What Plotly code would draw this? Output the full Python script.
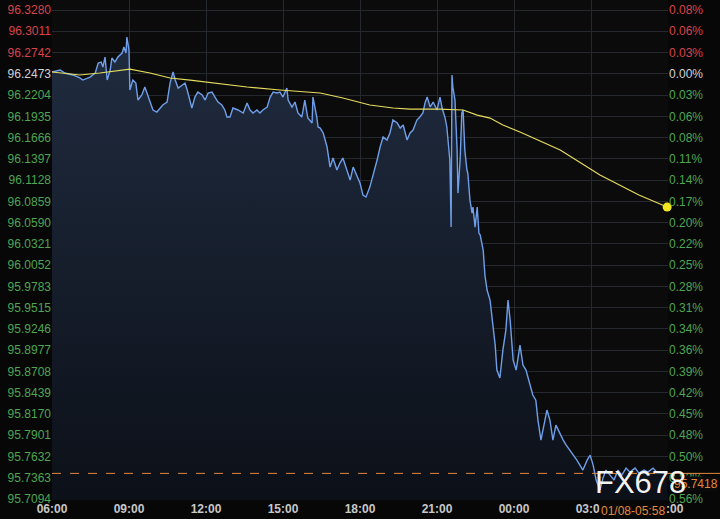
import pandas as pd
import plotly.graph_objects as go

# ---- data ----
minutes_from_0600 = [
    0, 19, 30, 49, 65, 72, 89, 101, 108, 115, 119, 124, 129, 136, 140, 147, 154, 164, 168, 173,
    175, 180, 182, 189, 196, 201, 210, 217, 222, 229, 236, 245, 252, 259, 269, 276, 283, 288, 295, 304,
    311, 316, 327, 334, 341, 351, 358, 365, 374, 381, 388, 397, 404, 409, 416, 423, 435, 447, 456, 463,
    470, 479, 486, 493, 503, 510, 517, 526, 533, 540, 549, 552, 561, 568, 575, 584, 591, 598, 603, 608,
    610, 615, 619, 622, 627, 634, 643, 650, 657, 666, 673, 680, 690, 697, 704, 713, 720, 727, 734, 743,
    750, 760, 767, 774, 783, 790, 797, 807, 814, 821, 830, 837, 844, 853, 860, 867, 872, 877, 884, 891,
    900, 907, 912, 919, 923, 930, 933, 935, 937, 942, 947, 949, 954, 958, 961, 965, 970, 972, 977, 982,
    984, 989, 994, 998, 1001, 1008, 1012, 1017, 1024, 1029, 1036, 1040, 1047, 1054, 1061, 1066, 1071, 1078, 1085, 1094,
    1101, 1108, 1117, 1124, 1131, 1136, 1143, 1150, 1157, 1164, 1171, 1178, 1188, 1195, 1202, 1211, 1218, 1227, 1234, 1241,
    1251, 1258, 1265, 1272, 1281, 1288, 1295, 1304, 1314, 1323, 1332, 1342, 1351, 1363, 1372, 1384, 1393, 1405, 1414, 1438,
]
price = [
    96.2496, 96.2521, 96.2483, 96.2458, 96.2420, 96.2394, 96.2432, 96.2483, 96.2609, 96.2622,
    96.2559, 96.2685, 96.2394, 96.2521, 96.2673, 96.2622, 96.2685, 96.2736, 96.2812, 96.2736,
    96.2938, 96.2774, 96.2268, 96.2394, 96.2356, 96.2141, 96.2205, 96.2306, 96.2230, 96.2116,
    96.2015, 96.1989, 96.2040, 96.2078, 96.2116, 96.2356, 96.2496, 96.2394, 96.2293, 96.2331,
    96.2356, 96.2268, 96.2040, 96.2179, 96.2242, 96.2205, 96.2141, 96.2230, 96.2242, 96.2179,
    96.2116, 96.2078, 96.2015, 96.1926, 96.1926, 96.2040, 96.2015, 96.1977, 96.2103, 96.2015,
    96.1977, 96.2015, 96.1977, 96.2015, 96.2053, 96.2179, 96.2242, 96.2230, 96.2242, 96.2179,
    96.2293, 96.2141, 96.2053, 96.2116, 96.1977, 96.1926, 96.2141, 96.1913, 96.1888, 96.1850,
    96.2179, 96.2053, 96.1926, 96.1800, 96.1787, 96.1724, 96.1547, 96.1293, 96.1407, 96.1256,
    96.1344, 96.1407, 96.1256, 96.1129, 96.1293, 96.1167, 96.1091, 96.0939, 96.0914, 96.1040,
    96.1167, 96.1382, 96.1547, 96.1673, 96.1635, 96.1724, 96.1888, 96.1850, 96.1787, 96.1825,
    96.1635, 96.1724, 96.1762, 96.1888, 96.1926, 96.1977, 96.2103, 96.2179, 96.2053, 96.2116,
    96.2015, 96.2179, 96.2040, 96.1913, 96.1800, 96.1382, 96.0534, 96.2458, 96.2306, 96.2141,
    96.1509, 96.0964, 96.1382, 96.1977, 96.2015, 96.1509, 96.1256, 96.1218, 96.0876, 96.0711,
    96.0787, 96.0534, 96.0787, 96.0458, 96.0433, 96.0243, 95.9927, 95.9737, 95.9611, 95.9358,
    95.9041, 95.8725, 95.8624, 95.8978, 95.9231, 95.9611, 95.9358, 95.8851, 95.8725, 95.9041,
    95.8788, 95.8725, 95.8535, 95.8409, 95.8345, 95.8092, 95.7839, 95.8029, 95.8219, 95.8092,
    95.7839, 95.8029, 95.7903, 95.7839, 95.7776, 95.7713, 95.7649, 95.7586, 95.7523, 95.7460,
    95.7586, 95.7649, 95.7523, 95.7333, 95.7207, 95.7358, 95.7460, 95.7396, 95.7333, 95.7460,
    95.7396, 95.7485, 95.7434, 95.7485, 95.7422, 95.7460, 95.7434, 95.7485, 95.7434, 95.7418,
]
avg_minutes = [0, 26, 65, 112, 182, 229, 276, 323, 376, 456, 533, 603, 627, 680, 743, 797, 837, 905,
               961, 994, 1024, 1054, 1094, 1188, 1281, 1372, 1438]
avg_price = [96.2496, 96.2483, 96.2458, 96.2483, 96.2533, 96.2483, 96.2420, 96.2394, 96.2356, 96.2306,
             96.2268, 96.2242, 96.2230, 96.2167, 96.2078, 96.2040, 96.2027, 96.2027, 96.2015, 96.1951,
             96.1913, 96.1825, 96.1736, 96.1509, 96.1192, 96.0939, 96.0787]

left_labels = ["96.3280", "96.3011", "96.2742", "96.2473", "96.2204", "96.1935", "96.1666", "96.1397",
               "96.1128", "96.0859", "96.0590", "96.0321", "96.0052", "95.9783", "95.9515", "95.9246",
               "95.8977", "95.8708", "95.8439", "95.8170", "95.7901", "95.7632", "95.7363", "95.7094"]
right_labels = ["0.08%", "0.06%", "0.03%", "0.00%", "0.03%", "0.06%", "0.08%", "0.11%", "0.14%", "0.17%",
                "0.20%", "0.22%", "0.25%", "0.28%", "0.31%", "0.34%", "0.36%", "0.39%", "0.42%", "0.45%",
                "0.48%", "0.50%", "0.53%", "0.56%"]
ref_price = 96.2473
base_time = pd.Timestamp("2019-01-07 06:00")
end_time = pd.Timestamp("2019-01-08 06:00")

# ---- build ----
t = [base_time + pd.Timedelta(minutes=m) for m in minutes_from_0600]
ta = [base_time + pd.Timedelta(minutes=m) for m in avg_minutes]
tick_vals = [float(s) for s in left_labels]

RED, WHITE, GREEN = "#d8444b", "#d2d2d2", "#4fa552"


def colour_for(v):
    if abs(v - ref_price) < 1e-6:
        return WHITE
    return RED if v > ref_price else GREEN


left_text = [f"<span style='color:{colour_for(v)}'>{s}</span>" for v, s in zip(tick_vals, left_labels)]
right_text = [f"<span style='color:{colour_for(v)}'>{s}</span>" for v, s in zip(tick_vals, right_labels)]

step = tick_vals[0] - tick_vals[1]
px_per_unit = 21.26 / step
y_top = tick_vals[0] + 10 / px_per_unit
y_bot = tick_vals[-1] - 1 / px_per_unit
yrange = [y_bot, y_top]

fig = go.Figure()
fig.add_trace(go.Scatter(
    x=t, y=price, mode="lines",
    line=dict(color="#6f9fe9", width=1.4),
    fill="tozeroy",
    fillgradient=dict(type="vertical", start=y_bot, stop=96.30,
                      colorscale=[[0, "rgb(12,16,24)"], [1, "rgb(32,44,64)"]]),
    hoverinfo="skip", showlegend=False,
))
fig.add_trace(go.Scatter(
    x=ta, y=avg_price, mode="lines", yaxis="y2",
    line=dict(color="#e6dc5e", width=1.2),
    hoverinfo="skip", showlegend=False,
))
fig.add_trace(go.Scatter(
    x=[ta[-1]], y=[avg_price[-1]], mode="markers", yaxis="y2", cliponaxis=False,
    marker=dict(color="#f2e41e", size=9),
    hoverinfo="skip", showlegend=False,
))

last = price[-1]
orange = "#e3883e"
fig.add_shape(type="line", xref="paper", x0=0, x1=1, yref="y", y0=last, y1=last,
              line=dict(color=orange, width=1, dash="dash"))
fig.add_shape(type="line", xref="paper", x0=1, x1=1.09, yref="y", y0=last, y1=last,
              line=dict(color=orange, width=1))

fig.add_annotation(xref="paper", x=1, xanchor="left", xshift=5, yref="y", y=last, yanchor="top",
                   yshift=-3, text=f"{last:.4f}", showarrow=False,
                   font=dict(color=orange, size=12, family="Liberation Sans"),
                   bgcolor="#0a0a0a", borderpad=0)
fig.add_annotation(xref="x", x=t[-1], xanchor="right", yref="paper", y=0, yanchor="top", yshift=-2,
                   text=t[-1].strftime("%m/%d-%H:%M"), showarrow=False,
                   font=dict(color=orange, size=12, family="Liberation Sans"),
                   bgcolor="#080808", borderpad=1)
fig.add_annotation(xref="paper", x=0.955, xanchor="center", yref="paper", y=0.035, yanchor="middle",
                   text="FX678", showarrow=False,
                   font=dict(color="rgba(250,250,250,0.97)", size=31, family="Liberation Sans"))

grid = "#25282d"
fig.update_layout(
    width=720, height=519,
    margin=dict(l=52, r=52, t=0, b=19),
    paper_bgcolor="#070707", plot_bgcolor="#0b0b0c",
    showlegend=False,
    xaxis=dict(
        type="date", range=[base_time, end_time],
        tickvals=[base_time + pd.Timedelta(hours=3 * k) for k in range(9)],
        tickformat="%H:%M", showgrid=True, gridcolor=grid, gridwidth=1,
        zeroline=False, showline=False, ticks="",
        tickfont=dict(color="#c8c8c8", size=12, family="Liberation Sans", weight="bold"),
    ),
    yaxis=dict(
        range=yrange, tickvals=tick_vals, ticktext=left_text,
        showgrid=True, gridcolor=grid, gridwidth=1, zeroline=False, ticks="",
        tickfont=dict(size=12, family="Liberation Sans"),
    ),
    yaxis2=dict(
        range=yrange, overlaying="y", side="right", tickvals=tick_vals, ticktext=right_text,
        showgrid=False, zeroline=False, ticks="",
        tickfont=dict(size=12, family="Liberation Sans"),
    ),
)

fig.write_html("out.html", config={"displayModeBar": False},
               post_script="document.body.style.margin='0';document.body.style.overflow='hidden';")
